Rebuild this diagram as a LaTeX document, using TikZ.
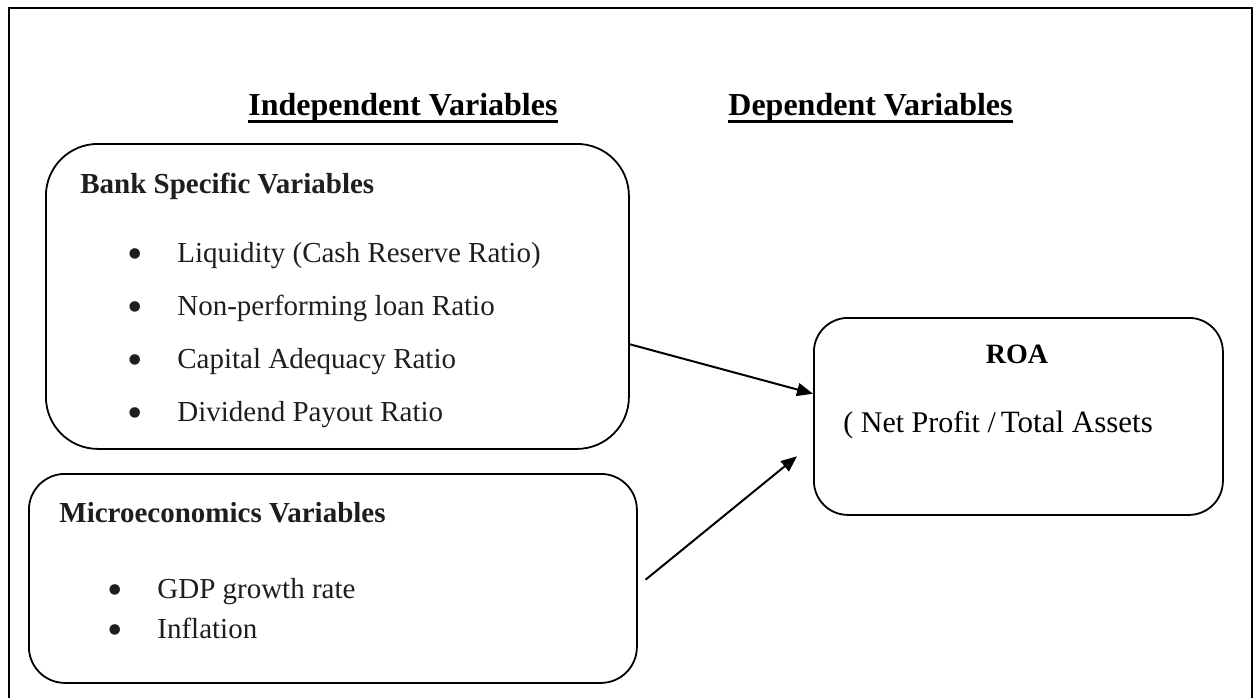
\documentclass[tikz,border=0pt]{standalone}
\usepackage{fontspec}
\setmainfont{Liberation Serif}
\usetikzlibrary{arrows.meta,calc}
\definecolor{txt}{HTML}{1E1E1E}
\tikzset{
  frameline/.style={line width=1pt, draw=black},
  rbox/.style={draw=black, line width=0.9pt, inner sep=0pt, anchor=north west},
  title/.style={inner sep=0pt, anchor=base west, text=black, font=\fontsize{16}{19}\selectfont\bfseries},
  head/.style={inner sep=0pt, anchor=base west, text=txt, font=\fontsize{14.5}{17}\selectfont\bfseries},
  item/.style={inner sep=0pt, anchor=base west, text=txt, font=\fontsize{14.5}{17}\selectfont},
  bul/.style={inner sep=0pt, anchor=base, text=txt, font=\fontsize{22}{24}\selectfont},
  uline/.style={line width=1.5pt, draw=black},
  arr/.style={line width=1pt, draw=black, -{Triangle[length=8pt,width=6.5pt]}}
}
\newcommand{\bulmark}{\smash{•}}
\begin{document}
\begin{tikzpicture}[x=0.5pt, y=-0.5pt]
\useasboundingbox (0,0) rectangle (1256,698);
% outer frame
\draw[frameline] (9,698) -- (9,8) -- (1252,8) -- (1252,698);

% titles
\node[title] (tind) at (248,115) {Independent Variables};
\node[title] (tdep) at (728,115) {Dependent Variables};
\draw[uline] ([yshift=-3pt]tind.base west) -- ([yshift=-3pt]tind.base east);
\draw[uline] ([yshift=-3pt]tdep.base west) -- ([yshift=-3pt]tdep.base east);

% boxes
\node[rbox, rounded corners=26pt, minimum width=291.5pt, minimum height=152.5pt] (bank) at (45,143) {};
\node[rbox, rounded corners=18pt, minimum width=304pt, minimum height=104.5pt] (micro) at (28,473) {};
\node[rbox, rounded corners=17pt, minimum width=204.5pt, minimum height=98.5pt] (roa) at (813,317) {};

% bank specific
\node[head] (hbank) at (80,193) {Bank Specific Variables};
\node[bul] (b1) at (135,268) {\bulmark};
\node[bul] (b2) at (135,321) {\bulmark};
\node[bul] (b3) at (135,374) {\bulmark};
\node[bul] (b4) at (135,427) {\bulmark};
\node[item] (i1) at (177,262) {Liquidity (Cash Reserve Ratio)};
\node[item] (i2) at (177,315) {Non-performing loan Ratio};
\node[item] (i3) at (177,368) {Capital Adequacy Ratio};
\node[item] (i4) at (177,421) {Dividend Payout Ratio};

% micro
\node[head] (hmicro) at (59,522) {Microeconomics Variables};
\node[bul] (m1) at (115,604) {\bulmark};
\node[bul] (m2) at (115,644) {\bulmark};
\node[item] (j1) at (157,598) {GDP growth rate};
\node[item] (j2) at (157,638) {Inflation};

% ROA
\node[inner sep=0pt, anchor=base, text=black, font=\fontsize{14}{17}\selectfont\bfseries] (roat) at (1017,363) {ROA};
\node[inner sep=0pt, anchor=base west, text=black] (roaf) at (843,432) {{\fontsize{15}{18}\selectfont ( Net Profit /} {\fontsize{15.5}{18}\selectfont Total Assets}};

% arrows
\coordinate (s1) at ($(bank.north east)!0.656!(bank.south east)$);
\coordinate (e1) at ($(roa.north west)!0.386!(roa.south west)$);
\coordinate (s2) at ($(micro.north east)!0.536!(micro.south east)$);
\coordinate (e2) at ($(roa.north west)!0.635!(roa.south west)$);
\draw[arr] (s1) -- (e1);
\draw[arr, shorten <=5pt, shorten >=10.3pt] (s2) -- (e2);
\end{tikzpicture}
\end{document}
